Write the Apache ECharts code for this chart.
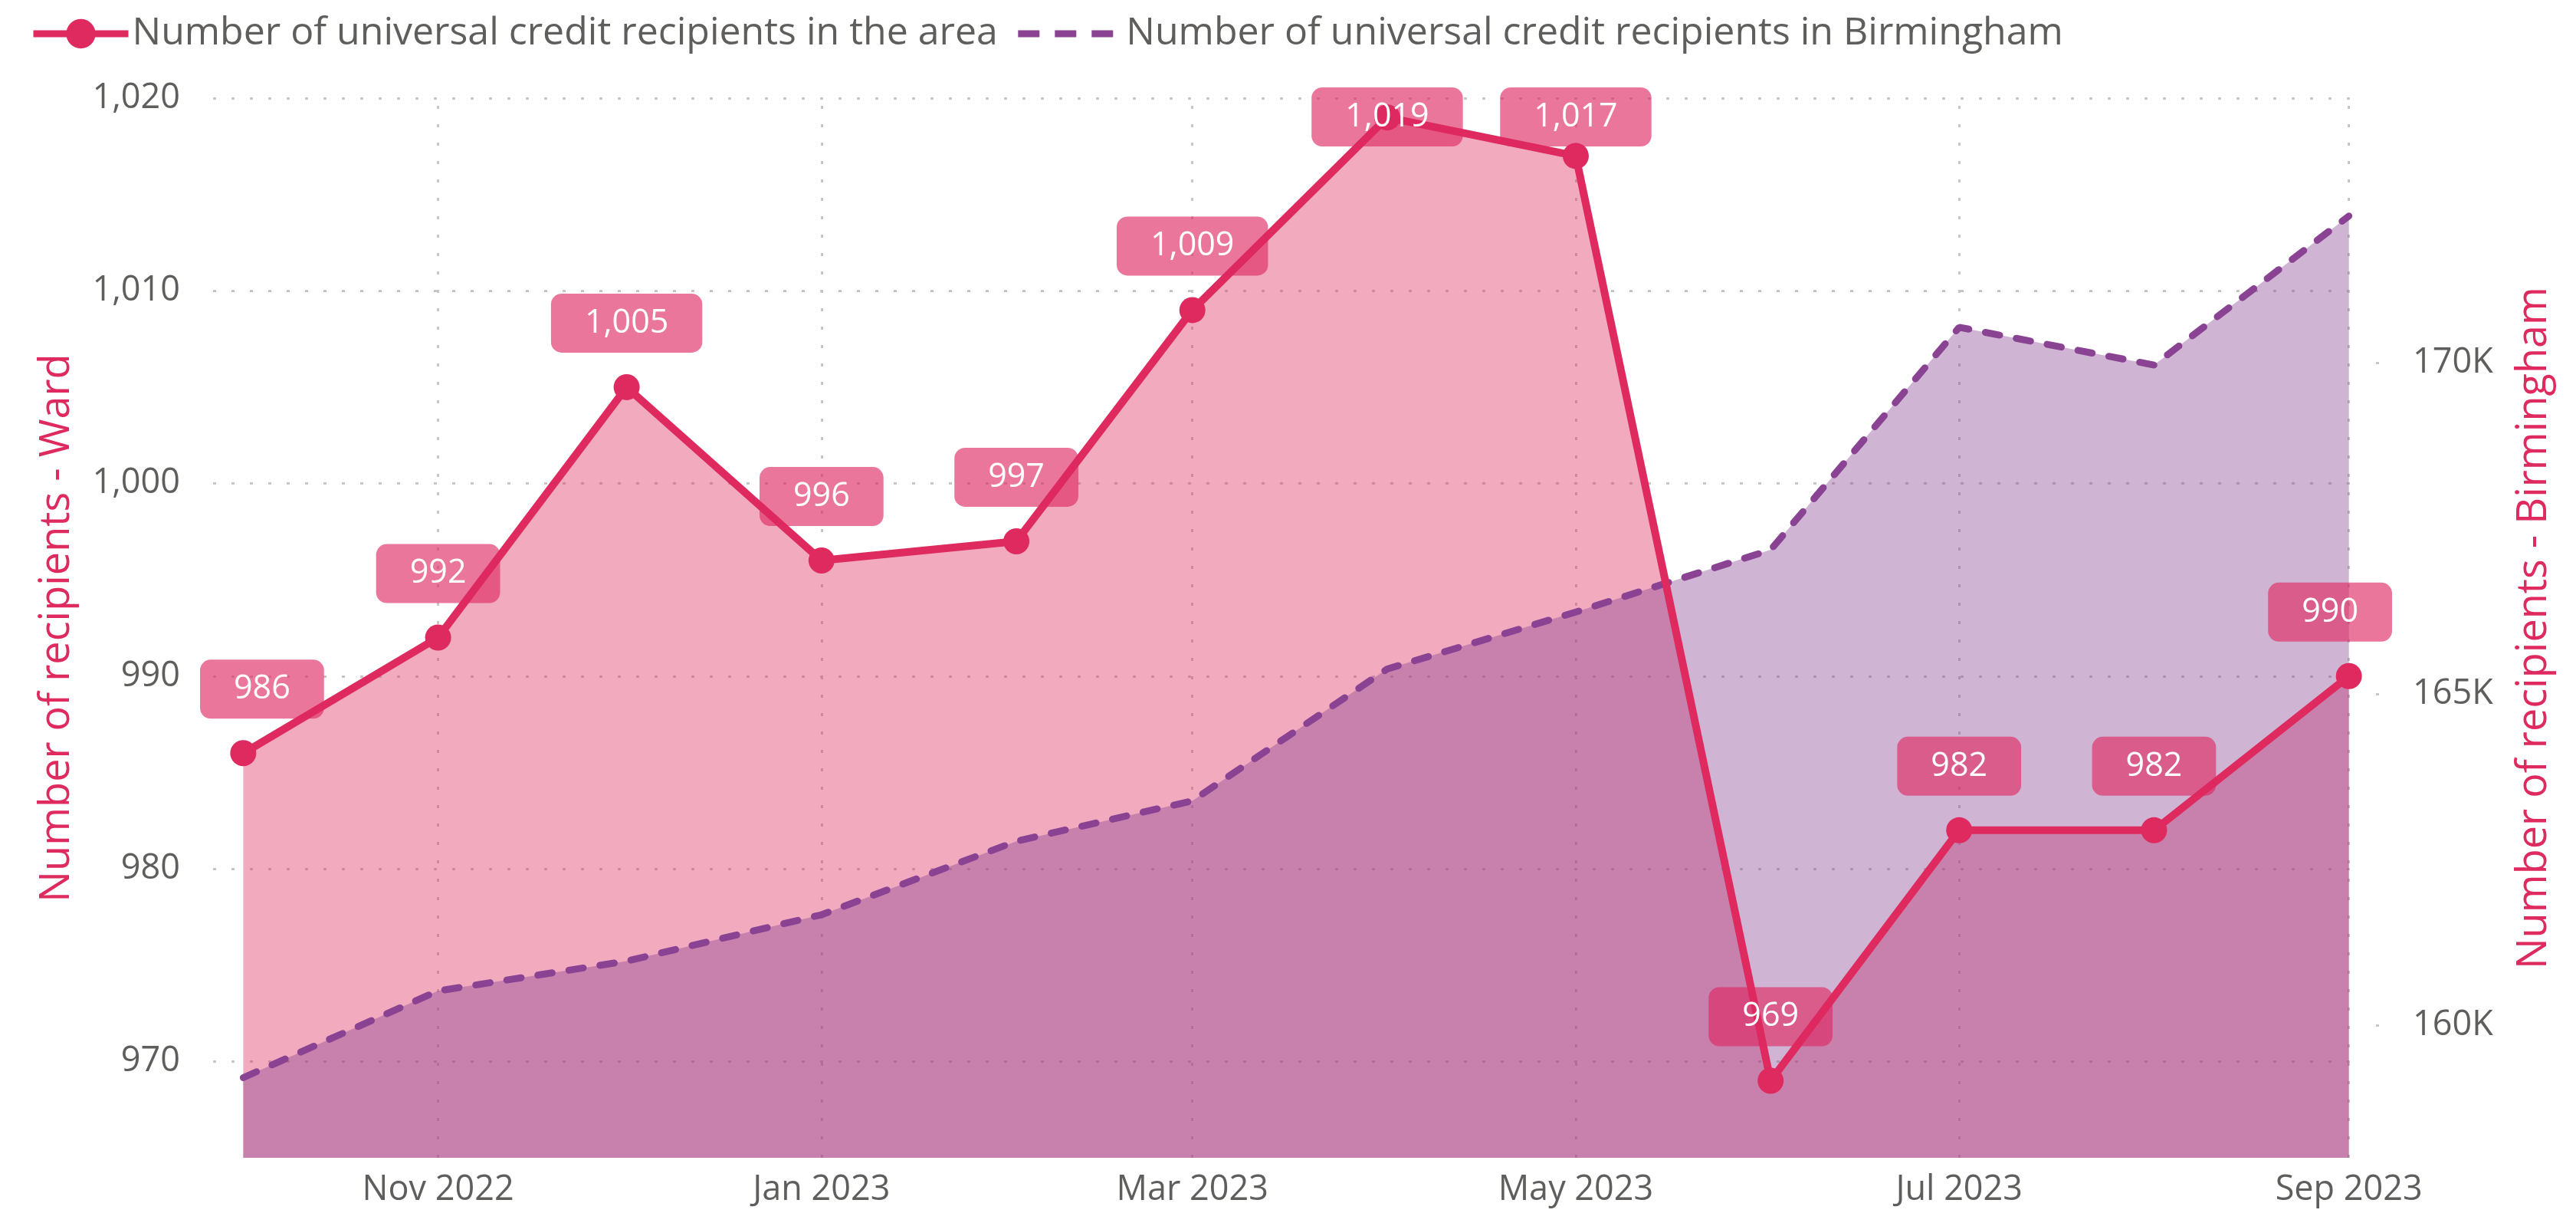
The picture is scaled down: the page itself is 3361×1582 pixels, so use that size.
<!DOCTYPE html>
<html>
<head>
<meta charset="utf-8">
<title>Universal credit recipients</title>
<script src="https://cdn.jsdelivr.net/npm/echarts@6/dist/echarts.min.js"></script>
<style>
  html, body { margin: 0; padding: 0; background: #fff; }
  #myChart { width: 3361px; height: 1582px; }
</style>
</head>
<body>
<div id="myChart"></div>
<script>
// data
const months = ['2022-10-01', '2022-11-01', '2022-12-01', '2023-01-01', '2023-02-01', '2023-03-01',
  '2023-04-01', '2023-05-01', '2023-06-01', '2023-07-01', '2023-08-01', '2023-09-01']
const wardValues = [986, 992, 1005, 996, 997, 1009, 1019, 1017, 969, 982, 982, 990]
const birminghamValues = [159210, 160520, 160970, 161670, 162780, 163390,
  165380, 166240, 167180, 170540, 169970, 172220]
const xTicks = ['2022-11-01', '2023-01-01', '2023-03-01', '2023-05-01', '2023-07-01', '2023-09-01']
const rightTicks = [160000, 165000, 170000]

const wardName = 'Number of universal credit recipients in the area'
const bhamName = 'Number of universal credit recipients in Birmingham'

const pink = '#DF2A5F'
const purple = '#8A4393'
const grey = '#605E5C'
const gridGrey = '#C8C6C4'
const font = 'Open Sans'
const DAY = 86400000
const MONTHS = ['Jan', 'Feb', 'Mar', 'Apr', 'May', 'Jun', 'Jul', 'Aug', 'Sep', 'Oct', 'Nov', 'Dec']

// grid box
const G = { left: 278, right: 275, top: 128, bottom: 72 }
const W = 3361
const H = 1582

// x is a plain value axis holding timestamps, so month lengths stay true
const toTime = s => new Date(s + 'T00:00:00').getTime()
const wardData = months.map((m, i) => [toTime(m), wardValues[i]])
const bhamData = months.map((m, i) => [toTime(m), birminghamValues[i]])
const xTickTimes = xTicks.map(toTime)

const fmt = v => Number(v).toLocaleString('en-US')
const monthLabel = v => {
  const d = new Date(v)
  return MONTHS[d.getMonth()] + ' ' + d.getFullYear()
}
const dotted = { color: gridGrey, width: 3, type: [4, 20] }

let myChart = echarts.init(document.getElementById('myChart'))

var option = {
  animation: false,
  textStyle: { fontFamily: font },
  legend: {
    top: 14,
    left: 34,
    itemWidth: 124,
    itemHeight: 48,
    itemGap: 22,
    textStyle: { fontSize: 50, color: grey, fontFamily: font },
    data: [
      { name: wardName, lineStyle: { width: 9 } },
      {
        name: bhamName,
        itemStyle: { opacity: 0 },
        lineStyle: { width: 9, type: [28, 20], cap: 'butt' },
        textStyle: { padding: [0, 0, 0, 12] }
      }
    ]
  },
  grid: { left: G.left, right: G.right, top: G.top, bottom: G.bottom, containLabel: false },
  xAxis: {
    type: 'value',
    min: v => v.min - 4.8 * DAY,
    max: v => v.max + 2.6 * DAY,
    axisLine: { show: false },
    // vertical dotted grid lines drawn as full-height inside ticks
    axisTick: {
      show: true,
      inside: true,
      length: H - G.top - G.bottom,
      customValues: xTickTimes,
      lineStyle: dotted
    },
    axisLabel: {
      customValues: xTickTimes,
      formatter: monthLabel,
      fontSize: 45,
      color: grey,
      margin: 20
    },
    splitLine: { show: false }
  },
  yAxis: [
    {
      type: 'value',
      position: 'left',
      min: 965,
      max: 1020,
      splitNumber: 5,
      minInterval: 10,
      maxInterval: 10,
      axisLine: { show: false },
      axisTick: { show: false },
      axisLabel: { fontSize: 45, color: grey, margin: 43, showMinLabel: false, formatter: fmt },
      splitLine: { show: true, showMinLine: false, lineStyle: dotted },
      name: 'Number of recipients - Ward',
      nameLocation: 'middle',
      nameRotate: 90,
      nameGap: 176,
      nameTextStyle: { color: pink, fontSize: 54, fontFamily: font }
    },
    {
      type: 'value',
      position: 'right',
      offset: 14,
      min: 158000,
      max: 174000,
      axisLine: { show: false },
      axisTick: {
        show: true,
        length: 4,
        customValues: rightTicks,
        lineStyle: { color: gridGrey, width: 3 }
      },
      axisLabel: {
        fontSize: 45,
        color: grey,
        margin: 48,
        customValues: rightTicks,
        formatter: v => (v / 1000) + 'K'
      },
      splitLine: { show: false },
      name: 'Number of recipients - Birmingham',
      nameLocation: 'middle',
      nameRotate: 90,
      nameGap: 180,
      nameTextStyle: { color: pink, fontSize: 54, fontFamily: font }
    }
  ],
  series: [
    {
      // ward area only, sits under the Birmingham area
      name: 'Ward area',
      type: 'line',
      yAxisIndex: 0,
      data: wardData,
      symbol: 'none',
      silent: true,
      z: 1,
      lineStyle: { width: 0, opacity: 0 },
      areaStyle: { color: pink, opacity: 0.4 }
    },
    {
      name: bhamName,
      type: 'line',
      yAxisIndex: 1,
      data: bhamData,
      symbol: 'none',
      z: 2,
      lineStyle: { color: purple, width: 9, type: [19, 22], cap: 'round' },
      itemStyle: { color: purple },
      areaStyle: { color: purple, opacity: 0.4 }
    },
    {
      name: wardName,
      type: 'line',
      yAxisIndex: 0,
      data: wardData,
      z: 3,
      symbol: 'circle',
      symbolSize: 34,
      lineStyle: { color: pink, width: 10 },
      itemStyle: { color: pink },
      label: {
        show: true,
        position: 'top',
        distance: 28,
        formatter: p => fmt(p.value[1]),
        color: '#fff',
        fontSize: 43,
        fontFamily: font,
        lineHeight: 55,
        padding: [11, 44],
        borderRadius: 14,
        backgroundColor: 'rgba(222, 40, 96, 0.63)'
      },
      // keep labels inside the plot like the original visual does
      labelLayout: function (p) {
        const r = p.labelRect
        const topLimit = G.top - 14
        const leftLimit = G.left - 17
        const rightLimit = W - G.right + 35
        let x = r.x
        let y = r.y
        if (y < topLimit) y = topLimit
        if (x < leftLimit) x = leftLimit
        if (x + r.width > rightLimit) x = rightLimit - r.width
        if (x === r.x && y === r.y) return {}
        return { x: x, y: y, align: 'left', verticalAlign: 'top' }
      }
    }
  ]
}

window.onresize = myChart.resize
myChart.setOption(option)
</script>
</body>
</html>
